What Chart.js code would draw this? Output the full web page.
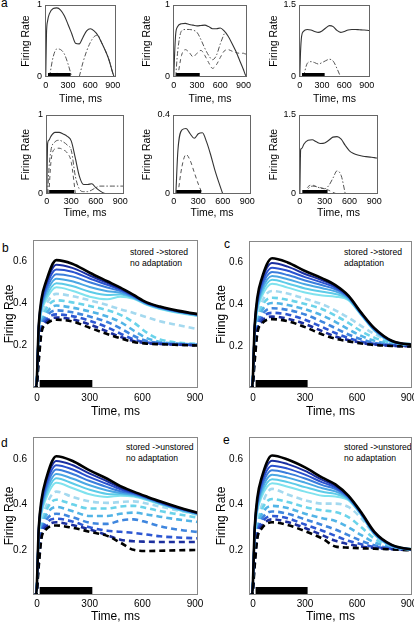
<!DOCTYPE html>
<html>
<head>
<meta charset="utf-8">
<script src="https://cdn.jsdelivr.net/npm/chart.js@4.4.1/dist/chart.umd.min.js"></script>
<style>
  body { margin: 0; width: 414px; height: 625px; position: relative; overflow: hidden; background: #fff;
         font-family: "Liberation Sans", Arial, sans-serif; }
  canvas { position: absolute; }
  .letter { position: absolute; font-size: 12px; line-height: 12px; color: #000; }
  .note { position: absolute; font-size: 8.6px; line-height: 11px; color: #000; white-space: nowrap; }
</style>
</head>
<body>
<div class="letter" style="left:1px;top:-3px">a</div>
<div class="letter" style="left:2px;top:242px">b</div>
<div class="letter" style="left:224px;top:238px">c</div>
<div class="letter" style="left:1px;top:437px">d</div>
<div class="letter" style="left:223px;top:434px">e</div>
<div class="note" style="left:130px;top:247px">stored -&gt;stored<br>no adaptation</div>
<div class="note" style="left:344px;top:247px">stored -&gt;stored<br>adaptation</div>
<div class="note" style="left:126px;top:442px">stored -&gt;unstored<br>no adaptation</div>
<div class="note" style="left:344px;top:442px">stored -&gt;unstored<br>no adaptation</div>

<script>
// ---- DATA: panel a (single cells), time grid in ms ----
const T_TOP = [0, 10, 25, 50, 100, 150, 200, 250, 300, 350, 400, 450, 500, 550, 600, 650, 700, 750, 800, 850, 900, 920, 940];
const X_TICKS = [0, 300, 600, 900];
const STIM_TOP = [30, 335];

const a1Solid   = [0, 0.6, 0.78, 0.88, 0.95, 0.96, 0.93, 0.85, 0.73, 0.6, 0.47, 0.46, 0.55, 0.64, 0.67, 0.64, 0.58, 0.48, 0.37, 0.24, 0.06, 0, null];
const a1DashDot = [null, null, null, 0, 0.28, 0.39, 0.38, 0.32, 0.18, 0, null, 0, 0.2, 0.36, 0.48, 0.56, 0.58, 0.48, 0.37, 0.24, 0.06, 0, null];
const a1Dash    = [null, null, null, 0, 0.03, 0.05, 0.04, 0.015, 0, null, null, null, null, null, null, null, null, null, null, null, null, null, null];

const a2Solid   = [0, 0.3, 0.6, 0.7, 0.74, 0.745, 0.73, 0.72, 0.71, 0.715, 0.72, 0.7, 0.67, 0.67, 0.68, 0.64, 0.57, 0.47, 0.36, 0.23, 0.1, 0.04, 0];
const a2DashDot = [null, null, 0, 0.35, 0.64, 0.66, 0.66, 0.65, 0.62, 0.52, 0.4, 0.3, 0.24, 0.3, 0.46, 0.6, null, null, null, null, null, null, null];
const a2Dash    = [null, null, null, 0, 0.3, 0.38, 0.34, 0.28, 0.33, 0.37, 0.3, 0.2, 0.12, 0.17, 0.27, 0.36, 0.38, 0.36, 0.34, 0.33, 0.33, 0.32, 0.32];

const a3Solid   = [0, 0.5, 0.85, 0.95, 0.99, 0.98, 0.95, 0.93, 0.96, 1.02, 1.07, 1.05, 0.97, 0.93, 0.95, 0.98, 0.99, 0.99, 0.985, 0.98, 0.975, 0.97, 0.97];
const a3DashDot = [null, null, null, 0, 0.28, 0.32, 0.3, 0.27, 0.3, 0.34, 0.37, 0.33, 0.18, 0, null, null, null, null, null, null, null, null, null];

const a4Solid   = [0, 0.64, 0.68, 0.73, 0.78, 0.78, 0.76, 0.73, 0.67, 0.45, 0.22, 0.12, 0.12, 0.13, 0.08, 0.04, 0.01, 0, null, null, null, null, null];
const a4DashDot = [null, 0, 0.3, 0.55, 0.66, 0.68, 0.66, 0.62, 0.55, 0.22, 0.06, 0.03, 0.03, 0.05, 0.08, 0.1, 0.1, 0.1, 0.1, 0.1, 0.1, 0.1, 0.1];
const a4Dash    = [null, null, 0, 0.4, 0.57, 0.58, 0.56, 0.52, 0.4, 0, null, null, null, null, null, null, null, null, null, null, null, null, null];

const a5Solid   = [null, null, 0, 0.22, 0.325, 0.332, 0.305, 0.282, 0.305, 0.31, 0.265, 0.2, 0.125, 0.06, 0, null, null, null, null, null, null, null, null];
const a5Dash    = [null, null, null, 0, 0.14, 0.2, 0.17, 0.11, 0.05, 0, null, null, null, null, null, null, null, null, null, null, null, null, null];

const a6Solid   = [0, 0.84, 0.87, 0.95, 1.02, 1.03, 0.99, 0.96, 0.97, 1.02, 1.08, 1.09, 1.04, 0.92, 0.82, 0.77, 0.74, 0.72, 0.71, 0.7, 0.69, 0.685, 0.68];
const a6Dash    = [null, null, null, 0, 0.14, 0.17, 0.14, 0.12, 0.1, 0.07, 0.03, 0, null, null, null, null, null, null, null, null, null, null, null];
const a6DashDot = [null, null, null, 0, 0.1, 0.15, 0.14, 0.11, 0.1, 0.16, 0.3, 0.44, 0.35, 0, null, null, null, null, null, null, null, null, null];

// ---- DATA: panels b-e (population averages), index 0 = black ----
const T_BOT = [-25, -5, 10, 25, 50, 110, 200, 300, 400, 475, 550, 625, 700, 800, 950];
const Y_TICKS_BOT = [0.2, 0.4, 0.6];
const STIM_BOT = [15, 315];

const bSolid = [
  [0, 0, 0.3, 0.42, 0.5, 0.605, 0.588, 0.545, 0.505, 0.475, 0.44, 0.405, 0.385, 0.366, 0.345],
  [0, 0, 0.3, 0.41, 0.49, 0.583, 0.568, 0.532, 0.497, 0.47, 0.437, 0.403, 0.383, 0.364, 0.344],
  [0, 0, 0.29, 0.4, 0.475, 0.56, 0.55, 0.518, 0.488, 0.465, 0.435, 0.402, 0.382, 0.363, 0.343],
  [0, 0, 0.29, 0.39, 0.46, 0.538, 0.528, 0.5, 0.475, 0.458, 0.432, 0.4, 0.38, 0.362, 0.342],
  [0, 0, 0.28, 0.38, 0.445, 0.517, 0.505, 0.478, 0.458, 0.45, 0.428, 0.398, 0.378, 0.36, 0.34],
  [0, 0, 0.28, 0.37, 0.43, 0.496, 0.482, 0.455, 0.44, 0.442, 0.425, 0.396, 0.376, 0.358, 0.338],
  [0, 0, 0.27, 0.36, 0.415, 0.476, 0.46, 0.432, 0.42, 0.432, 0.422, 0.394, 0.374, 0.356, 0.336]
];
const bDashed = [
  [0, 0, 0.13, 0.26, 0.3, 0.323, 0.315, 0.285, 0.255, 0.235, 0.218, 0.21, 0.207, 0.204, 0.2],
  [0, 0, 0.15, 0.27, 0.31, 0.333, 0.325, 0.3, 0.267, 0.242, 0.222, 0.212, 0.208, 0.205, 0.201],
  [0, 0, 0.17, 0.28, 0.32, 0.348, 0.34, 0.318, 0.287, 0.257, 0.23, 0.215, 0.21, 0.206, 0.202],
  [0, 0, 0.19, 0.29, 0.335, 0.367, 0.358, 0.338, 0.312, 0.282, 0.247, 0.222, 0.213, 0.208, 0.203],
  [0, 0, 0.21, 0.3, 0.35, 0.39, 0.38, 0.362, 0.338, 0.312, 0.272, 0.236, 0.218, 0.21, 0.204],
  [0, 0, 0.23, 0.31, 0.37, 0.415, 0.405, 0.388, 0.368, 0.346, 0.31, 0.262, 0.23, 0.215, 0.206],
  [0, 0, 0.25, 0.32, 0.39, 0.445, 0.435, 0.415, 0.392, 0.372, 0.355, 0.335, 0.316, 0.298, 0.272]
];

const cSolid = [
  [0, 0, 0.3, 0.43, 0.52, 0.618, 0.598, 0.557, 0.522, 0.49, 0.44, 0.358, 0.285, 0.225, 0.203],
  [0, 0, 0.3, 0.42, 0.51, 0.595, 0.578, 0.543, 0.513, 0.485, 0.438, 0.356, 0.283, 0.224, 0.203],
  [0, 0, 0.29, 0.41, 0.495, 0.573, 0.558, 0.528, 0.502, 0.478, 0.435, 0.354, 0.281, 0.223, 0.203],
  [0, 0, 0.29, 0.4, 0.48, 0.552, 0.538, 0.512, 0.489, 0.47, 0.432, 0.352, 0.279, 0.222, 0.203],
  [0, 0, 0.28, 0.39, 0.465, 0.533, 0.518, 0.494, 0.475, 0.46, 0.428, 0.35, 0.277, 0.221, 0.203],
  [0, 0, 0.28, 0.38, 0.45, 0.515, 0.498, 0.474, 0.458, 0.448, 0.423, 0.348, 0.275, 0.22, 0.203],
  [0, 0, 0.27, 0.37, 0.435, 0.497, 0.478, 0.455, 0.44, 0.435, 0.418, 0.346, 0.273, 0.219, 0.203]
];
const cDashed = [
  [0, 0, 0.13, 0.26, 0.305, 0.328, 0.318, 0.29, 0.255, 0.235, 0.222, 0.212, 0.205, 0.2, 0.197],
  [0, 0, 0.15, 0.27, 0.315, 0.34, 0.33, 0.305, 0.27, 0.245, 0.228, 0.215, 0.207, 0.201, 0.198],
  [0, 0, 0.17, 0.28, 0.33, 0.358, 0.35, 0.325, 0.29, 0.262, 0.238, 0.22, 0.21, 0.203, 0.2],
  [0, 0, 0.19, 0.29, 0.345, 0.38, 0.372, 0.35, 0.315, 0.285, 0.255, 0.232, 0.215, 0.206, 0.203],
  [0, 0, 0.21, 0.3, 0.365, 0.405, 0.395, 0.375, 0.345, 0.315, 0.28, 0.248, 0.225, 0.21, 0.205],
  [0, 0, 0.23, 0.31, 0.385, 0.43, 0.42, 0.4, 0.375, 0.345, 0.31, 0.27, 0.24, 0.215, 0.207],
  [0, 0, 0.25, 0.32, 0.405, 0.462, 0.45, 0.425, 0.398, 0.37, 0.335, 0.295, 0.258, 0.222, 0.208]
];

const dSolid = [
  [0, 0, 0.3, 0.42, 0.51, 0.615, 0.595, 0.552, 0.515, 0.482, 0.458, 0.436, 0.415, 0.39, 0.357],
  [0, 0, 0.3, 0.41, 0.5, 0.594, 0.576, 0.538, 0.504, 0.475, 0.455, 0.434, 0.413, 0.388, 0.356],
  [0, 0, 0.29, 0.4, 0.485, 0.575, 0.557, 0.522, 0.492, 0.468, 0.452, 0.432, 0.411, 0.386, 0.355],
  [0, 0, 0.29, 0.39, 0.47, 0.556, 0.537, 0.505, 0.478, 0.46, 0.448, 0.43, 0.409, 0.384, 0.354],
  [0, 0, 0.28, 0.38, 0.455, 0.536, 0.516, 0.486, 0.463, 0.452, 0.444, 0.427, 0.407, 0.382, 0.353],
  [0, 0, 0.28, 0.37, 0.44, 0.517, 0.495, 0.466, 0.448, 0.446, 0.44, 0.424, 0.405, 0.38, 0.352],
  [0, 0, 0.27, 0.36, 0.425, 0.497, 0.474, 0.446, 0.434, 0.44, 0.436, 0.421, 0.402, 0.378, 0.351]
];
const dDashed = [
  [0, 0, 0.13, 0.25, 0.29, 0.308, 0.298, 0.28, 0.262, 0.232, 0.2, 0.195, 0.196, 0.198, 0.2],
  [0, 0, 0.15, 0.26, 0.3, 0.322, 0.31, 0.29, 0.265, 0.245, 0.238, 0.236, 0.235, 0.235, 0.235],
  [0, 0, 0.17, 0.27, 0.315, 0.338, 0.326, 0.3, 0.285, 0.28, 0.275, 0.268, 0.26, 0.255, 0.25],
  [0, 0, 0.19, 0.28, 0.33, 0.36, 0.345, 0.32, 0.315, 0.33, 0.335, 0.322, 0.305, 0.29, 0.276],
  [0, 0, 0.21, 0.29, 0.35, 0.39, 0.372, 0.35, 0.35, 0.36, 0.365, 0.357, 0.347, 0.335, 0.32],
  [0, 0, 0.23, 0.3, 0.37, 0.422, 0.402, 0.383, 0.383, 0.392, 0.395, 0.385, 0.372, 0.358, 0.338],
  [0, 0, 0.25, 0.31, 0.39, 0.458, 0.435, 0.415, 0.408, 0.412, 0.415, 0.405, 0.392, 0.375, 0.35]
];

const eSolid = [
  [0, 0, 0.3, 0.43, 0.52, 0.618, 0.6, 0.565, 0.52, 0.49, 0.44, 0.365, 0.28, 0.222, 0.198],
  [0, 0, 0.3, 0.42, 0.51, 0.595, 0.58, 0.55, 0.51, 0.484, 0.438, 0.363, 0.278, 0.221, 0.198],
  [0, 0, 0.29, 0.41, 0.495, 0.573, 0.56, 0.533, 0.499, 0.477, 0.435, 0.361, 0.276, 0.22, 0.198],
  [0, 0, 0.29, 0.4, 0.48, 0.553, 0.54, 0.516, 0.487, 0.469, 0.432, 0.359, 0.274, 0.219, 0.198],
  [0, 0, 0.28, 0.39, 0.465, 0.533, 0.52, 0.498, 0.473, 0.459, 0.428, 0.357, 0.272, 0.218, 0.198],
  [0, 0, 0.28, 0.38, 0.45, 0.513, 0.5, 0.478, 0.457, 0.448, 0.424, 0.355, 0.27, 0.217, 0.198],
  [0, 0, 0.27, 0.37, 0.435, 0.495, 0.48, 0.458, 0.44, 0.436, 0.42, 0.353, 0.268, 0.216, 0.198]
];
const eDashed = [
  [0, 0, 0.13, 0.25, 0.295, 0.322, 0.31, 0.283, 0.25, 0.215, 0.21, 0.207, 0.205, 0.202, 0.197],
  [0, 0, 0.15, 0.26, 0.305, 0.335, 0.323, 0.297, 0.265, 0.24, 0.225, 0.215, 0.208, 0.203, 0.198],
  [0, 0, 0.17, 0.27, 0.32, 0.35, 0.34, 0.312, 0.285, 0.262, 0.24, 0.225, 0.213, 0.205, 0.199],
  [0, 0, 0.19, 0.28, 0.335, 0.37, 0.36, 0.335, 0.31, 0.29, 0.265, 0.24, 0.22, 0.208, 0.2],
  [0, 0, 0.21, 0.29, 0.355, 0.395, 0.385, 0.36, 0.34, 0.328, 0.3, 0.265, 0.233, 0.212, 0.2],
  [0, 0, 0.23, 0.3, 0.375, 0.425, 0.412, 0.39, 0.375, 0.368, 0.345, 0.3, 0.25, 0.216, 0.2],
  [0, 0, 0.25, 0.31, 0.395, 0.47, 0.445, 0.42, 0.405, 0.405, 0.39, 0.34, 0.27, 0.22, 0.2]
];

// ---- STYLE ----
const FONT = '"Liberation Sans", Arial, sans-serif';
const SOLID_COLORS = ['#000000', '#1a2ea0', '#2a52cf', '#3a7ddc', '#4aa7e4', '#5ccbe8', '#7fe2ee'];
const DASH_COLORS  = ['#000000', '#1c2f9e', '#2d57d2', '#3f86de', '#52b4e6', '#6ad3ea', '#a4d9ef'];

Chart.defaults.font.family = FONT;

const framePlugin = {
  id: 'frame',
  afterDatasetsDraw(chart, args, opts) {
    const { ctx, chartArea: a, scales: { x } } = chart;
    ctx.save();
    const x0 = x.getPixelForValue(opts.stim[0]);
    const x1 = x.getPixelForValue(opts.stim[1]);
    ctx.fillStyle = '#000';
    ctx.fillRect(x0, a.bottom - opts.barH - 1, x1 - x0, opts.barH);
    ctx.strokeStyle = opts.color;
    ctx.lineWidth = 1;
    ctx.strokeRect(a.left + 0.5, a.top + 0.5, a.right - a.left - 1, a.bottom - a.top - 1);
    ctx.restore();
  }
};

const pts = (T, vals) => vals.map((v, i) => ({ x: T[i], y: v }));

function makeChart(rect, o, datasets) {
  const [L, T, R, B] = rect;
  const lh = o.titleSize * 1.2;
  const ML = Math.round(L - o.yTitleX + lh / 2 + 2);
  const MT = 12, MR = 24;
  const MB = Math.round(o.xTitleY - B + lh / 2 + 2);
  const cv = document.createElement('canvas');
  cv.width = R - L + ML + MR;
  cv.height = B - T + MT + MB;
  cv.style.left = (L - ML) + 'px';
  cv.style.top = (T - MT) + 'px';
  document.body.appendChild(cv);

  const padY = o.yTitleX - (L - ML) - lh / 2;
  const padX = (B + MB) - o.xTitleY - lh / 2;

  new Chart(cv, {
    type: 'line',
    data: { datasets },
    plugins: [framePlugin],
    options: {
      responsive: false,
      animation: false,
      events: [],
      layout: { padding: { left: 0, top: MT, right: MR, bottom: 0 } },
      elements: { point: { radius: 0 }, line: { cubicInterpolationMode: 'monotone' } },
      plugins: {
        legend: { display: false },
        tooltip: { enabled: false },
        frame: { stim: o.stim, barH: o.barH, color: o.frameColor }
      },
      scales: {
        x: {
          type: 'linear', min: o.xMin, max: o.xMax,
          afterBuildTicks: s => { s.ticks = X_TICKS.map(v => ({ value: v })); },
          afterFit: s => { s.height = MB; },
          grid: { display: false, drawTicks: false },
          border: { display: false },
          ticks: { padding: o.xTickPad, color: '#000', maxRotation: 0, autoSkip: false,
                   font: { size: o.tickSize } },
          title: { display: true, text: 'Time, ms', color: '#000',
                   font: { size: o.titleSize }, padding: { top: 0, bottom: padX } }
        },
        y: {
          type: 'linear', min: 0, max: o.yMax,
          afterBuildTicks: s => { s.ticks = o.yTicks.map(v => ({ value: v })); },
          afterFit: s => { s.width = ML; },
          grid: { display: false, drawTicks: false },
          border: { display: false },
          ticks: { padding: o.yTickPad, color: '#000', font: { size: o.tickSize },
                   callback: v => String(v) },
          title: { display: true, text: 'Firing Rate', color: '#000',
                   font: { size: o.titleSize }, padding: { top: padY, bottom: 0 } }
        }
      }
    }
  });
}

// ---- panel a ----
function topSets(solid, dashDot, dash) {
  const sets = [{ data: pts(T_TOP, solid), borderColor: '#333', borderWidth: 1.1 }];
  if (dashDot) sets.push({ data: pts(T_TOP, dashDot), borderColor: '#555', borderWidth: 1, borderDash: [5, 2, 1.5, 2] });
  if (dash) sets.push({ data: pts(T_TOP, dash), borderColor: '#555', borderWidth: 1, borderDash: [4, 3] });
  return sets;
}
const topOpts = (yMax, yTitleX, xTitleY, xTickPad) => ({
  xMin: -10, xMax: 945, yMax, yTicks: [0, yMax], yTitleX, xTitleY,
  titleSize: 10.5, tickSize: 9, xTickPad, yTickPad: 3,
  stim: STIM_TOP, barH: 3, frameColor: '#666'
});

makeChart([45, 5, 116, 77],    topOpts(1, 26, 99, 3),    topSets(a1Solid, a1DashDot, a1Dash));
makeChart([173, 5, 247, 77],   topOpts(1, 147, 99, 3),   topSets(a2Solid, a2DashDot, a2Dash));
makeChart([299, 5, 370, 77],   topOpts(1.5, 274, 99, 3), topSets(a3Solid, a3DashDot, null));
makeChart([46, 115, 124, 194], topOpts(1, 26, 213, 2),   topSets(a4Solid, a4DashDot, a4Dash));
makeChart([173, 115, 251, 194],topOpts(0.4, 147, 213, 2),topSets(a5Solid, null, a5Dash));
makeChart([299, 115, 378, 194],topOpts(1.5, 274, 213, 2),topSets(a6Solid, a6DashDot, a6Dash));

// ---- panels b-e ----
function botSets(solid, dashed) {
  const sets = [];
  solid.forEach((vals, k) => sets.push({
    data: pts(T_BOT, vals), borderColor: SOLID_COLORS[k], borderWidth: k === 0 ? 2.6 : 2
  }));
  dashed.forEach((vals, k) => sets.push({
    data: pts(T_BOT, vals), borderColor: DASH_COLORS[k], borderWidth: 2.6, borderDash: [6, 4]
  }));
  return sets;
}
const botOpts = (yTitleX, xTitleY, xTickPad) => ({
  xMin: -23, xMax: 917, yMax: 0.7, yTicks: Y_TICKS_BOT, yTitleX, xTitleY,
  titleSize: 12, tickSize: 10, xTickPad, yTickPad: 6,
  stim: STIM_BOT, barH: 7, frameColor: '#888'
});

makeChart([33, 240, 198, 388],  botOpts(10, 412, 4),  botSets(bSolid, bDashed));
makeChart([249, 241, 412, 388], botOpts(222, 412, 4), botSets(cSolid, cDashed));
makeChart([33, 437, 198, 595],  botOpts(10, 617, 3),  botSets(dSolid, dDashed));
makeChart([249, 437, 412, 595], botOpts(222, 617, 3), botSets(eSolid, eDashed));
</script>
</body>
</html>
